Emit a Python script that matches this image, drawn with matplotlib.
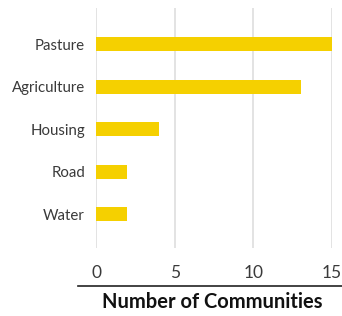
import matplotlib.pyplot as plt
from matplotlib.lines import Line2D

# Land use conflicts by number of communities
categories = ['Water', 'Road', 'Housing', 'Agriculture', 'Pasture']
counts = [2, 2, 4, 13, 15]
x_ticks = [0, 5, 10, 15]

plt.rcParams['font.family'] = ['Lato', 'DejaVu Sans']

fig = plt.figure(figsize=(3.42, 3.16), dpi=100)
ax = fig.add_axes([96 / 342, 68 / 316, 236 / 342, 240 / 316])

ypos = list(range(len(categories)))
ax.barh(ypos, counts, height=0.33, color='#F5D000', zorder=2)

ax.set_xlim(0, 15)
ax.set_ylim(-0.8, 4.85)
ax.set_xticks(x_ticks)
ax.set_yticks(ypos)
ax.set_yticklabels(categories)
ax.xaxis.grid(True, color='#e0e0e0', linewidth=1.3, zorder=0)
ax.set_axisbelow(True)
for s in ax.spines.values():
    s.set_visible(False)
ax.tick_params(axis='y', length=0, colors='#3a3a3a', labelsize=10.8, pad=8)
ax.tick_params(axis='x', length=0, colors='#3a3a3a', labelsize=12.5, pad=12)

# rule above the axis title
fig.add_artist(Line2D([78 / 342, 1.0], [1 - 286 / 316, 1 - 286 / 316],
                      color='#222222', linewidth=1.2, transform=fig.transFigure))
fig.text(212 / 342, 1 - 302 / 316, 'Number of Communities', ha='center', va='center',
         fontsize=14.5, fontweight='bold', color='#111111')

fig.savefig('out.png', dpi=100)
